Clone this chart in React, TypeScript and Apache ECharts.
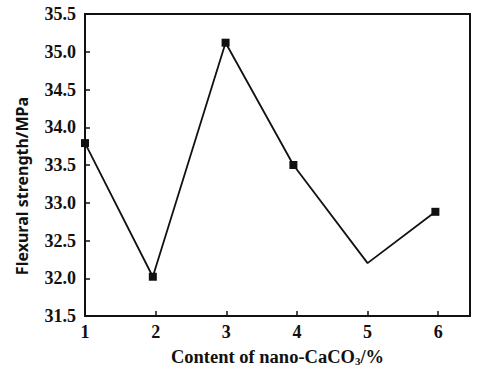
import React, { useEffect, useRef } from "react";
import * as echarts from "echarts";

const xValues = [1, 1.96, 2.99, 3.95, 5.0, 5.96];
const strength = [33.79, 32.02, 35.12, 33.5, 32.2, 32.88];
const showMarker = [true, true, true, true, false, true];
const xTickLabels = ["1", "2", "3", "4", "5", "6"];
const yTickLabels = ["31.5", "32.0", "32.5", "33.0", "33.5", "34.0", "34.5", "35.0", "35.5"];
const yTitle = "Flexural strength/MPa";

const FONT = "'Liberation Serif', 'Times New Roman', serif";

export default function App() {
  const ref = useRef<HTMLDivElement>(null);
  useEffect(() => {
    if (!ref.current) return;
    const chart = echarts.init(ref.current, null, { renderer: "svg" });
    const data = xValues.map((x, i) => ({
      value: [x, strength[i]],
      symbol: showMarker[i] ? "rect" : "none",
    }));
    chart.setOption({
      animation: false,
      backgroundColor: "#fff",
      grid: { left: 85, top: 14, right: 8, bottom: 47, show: false },
      graphic: [
        {
          type: "text",
          x: 22,
          y: 186,
          rotation: Math.PI / 2,
          style: {
            text: yTitle,
            fontFamily: "'Noto Sans', 'Open Sans', sans-serif",
            fontWeight: "bold",
            fontSize: 16,
            fill: "#111",
            align: "center",
            verticalAlign: "middle",
          },
        },
      ],
      xAxis: [
        {
          type: "value",
          min: 1,
          max: 6.45,
          interval: 1,
          name: "{a|Content of nano-CaCO}{s|3}{a|/%}",
          nameLocation: "middle",
          nameGap: 31,
          nameTextStyle: {
            rich: {
              a: { fontFamily: FONT, fontWeight: "bold", fontSize: 18.5, color: "#111" },
              s: { fontFamily: FONT, fontWeight: "bold", fontSize: 11, color: "#111", padding: [8, 0, 0, 0] },
            },
          },
          axisLine: { lineStyle: { color: "#111", width: 2 } },
          axisTick: { inside: true, length: 5, lineStyle: { color: "#111", width: 1.5 } },
          splitLine: { show: false },
          axisLabel: {
            margin: 7,
            fontFamily: FONT,
            fontWeight: "bold",
            fontSize: 18,
            color: "#111",
            showMaxLabel: false,
            formatter: (v: number) => {
              const i = Math.round(v) - 1;
              return Math.abs(v - Math.round(v)) < 1e-6 && xTickLabels[i] ? xTickLabels[i] : "";
            },
          },
        },
        {
          type: "value",
          position: "top",
          min: 1,
          max: 6.45,
          axisLine: { show: true, lineStyle: { color: "#111", width: 2 } },
          axisTick: { show: false },
          axisLabel: { show: false },
          splitLine: { show: false },
        },
      ],
      yAxis: [
        {
          type: "value",
          min: 31.5,
          max: 35.5,
          interval: 0.5,
          axisLine: { show: true, lineStyle: { color: "#111", width: 2 } },
          axisTick: { inside: true, length: 5, lineStyle: { color: "#111", width: 1.5 } },
          splitLine: { show: false },
          axisLabel: {
            margin: 9,
            fontFamily: FONT,
            fontWeight: "bold",
            fontSize: 18,
            color: "#111",
            formatter: (v: number) => {
              const i = Math.round((v - 31.5) / 0.5);
              return yTickLabels[i] ?? "";
            },
          },
        },
        {
          type: "value",
          position: "right",
          min: 31.5,
          max: 35.5,
          interval: 0.5,
          axisLine: { show: true, lineStyle: { color: "#111", width: 2 } },
          axisTick: { show: false },
          axisLabel: { show: false },
          splitLine: { show: false },
        },
      ],
      series: [
        {
          type: "line",
          data,
          symbolSize: 8,
          itemStyle: { color: "#111" },
          lineStyle: { color: "#111", width: 1.8 },
          z: 3,
        },
      ],
    });
    return () => chart.dispose();
  }, []);
  return (
    <div
      ref={ref}
      style={{ position: "fixed", left: 0, top: 0, width: 478, height: 371, background: "#fff" }}
    />
  );
}
